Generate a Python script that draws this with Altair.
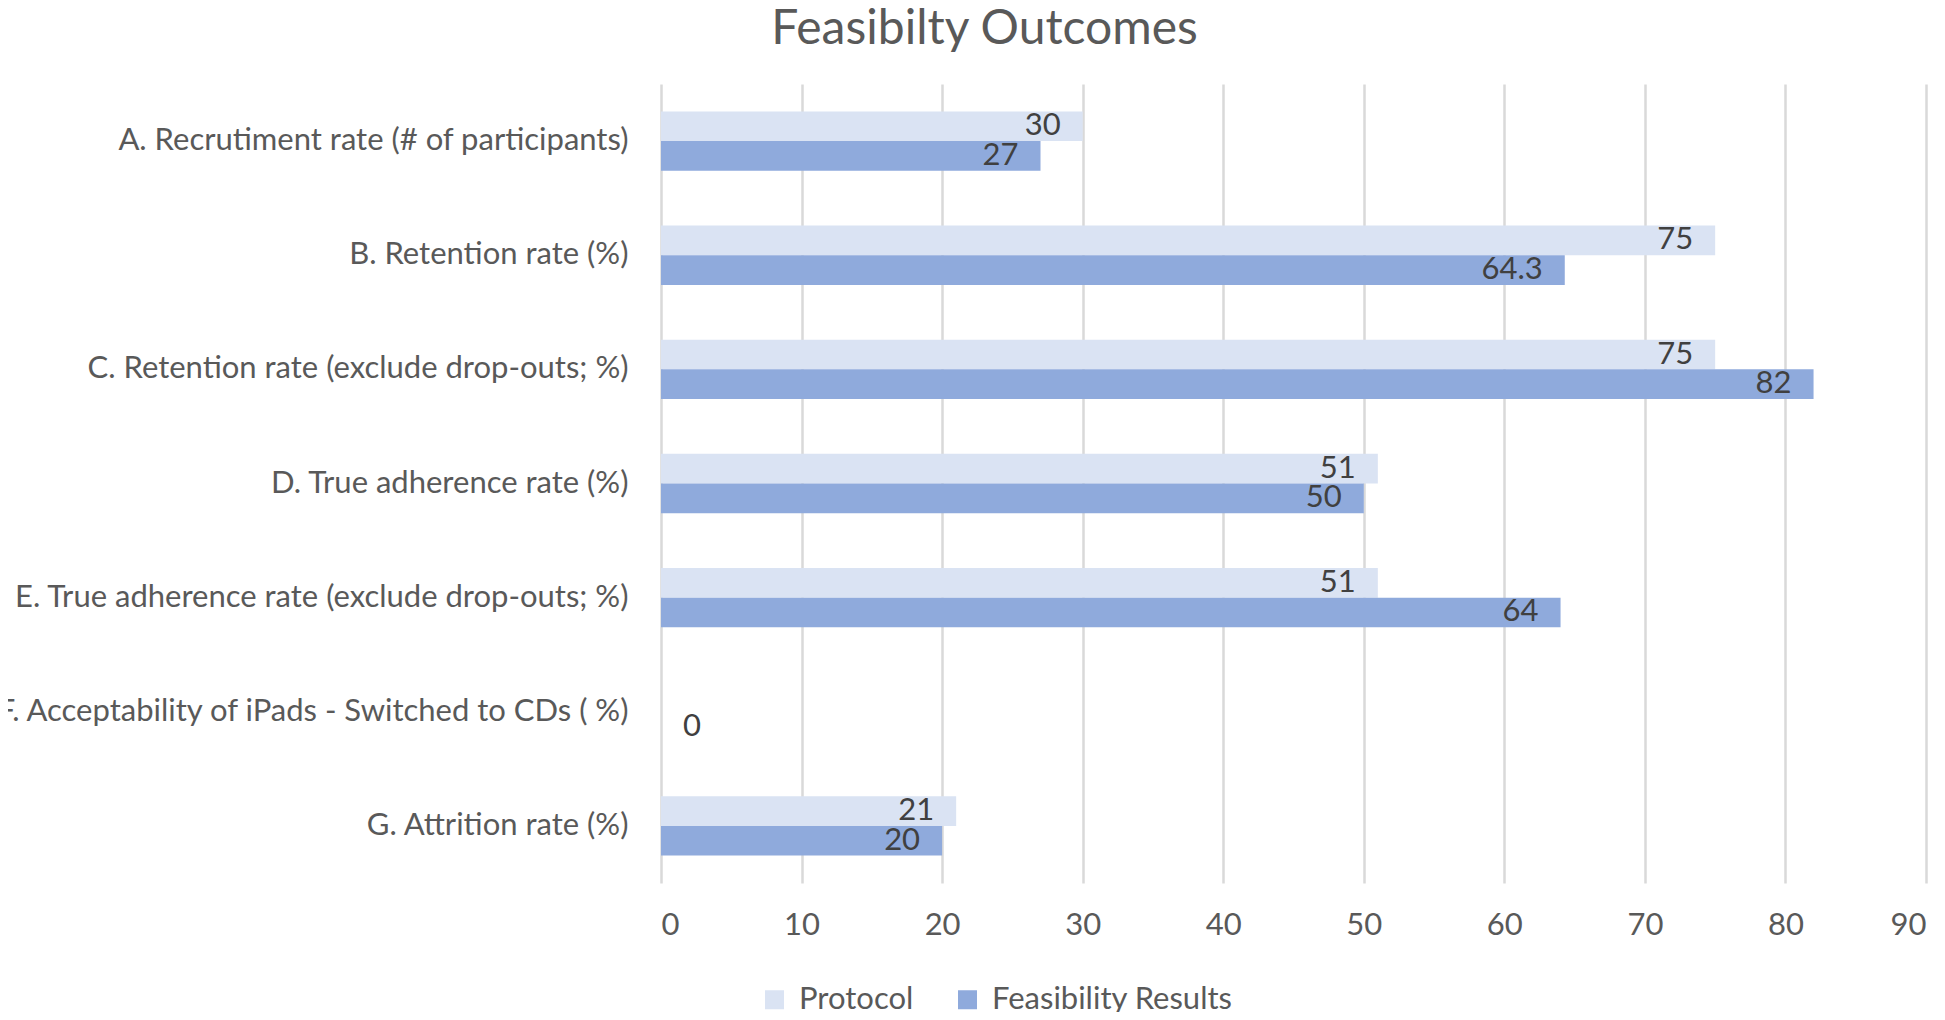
import altair as alt
import pandas as pd

categories = [
    "A. Recrutiment rate (# of participants)",
    "B. Retention rate (%)",
    "C. Retention rate (exclude drop-outs; %)",
    "D. True adherence rate (%)",
    "E. True adherence rate (exclude drop-outs; %)",
    "F. Acceptability of iPads - Switched to CDs ( %)",
    "G. Attrition rate (%)",
]
series_names = ["Protocol", "Feasibility Results"]
protocol = [30, 75, 75, 51, 51, None, 21]
feasibility = [27, 64.3, 82, 50, 64, 0, 20]
colors = ["#DAE3F3", "#8FAADC"]
x_ticks = [0, 10, 20, 30, 40, 50, 60, 70, 80, 90]

rows = []
for c, p, f in zip(categories, protocol, feasibility):
    if p is not None:
        rows.append({"category": c, "series": "Protocol", "value": p})
    if f is not None:
        rows.append({"category": c, "series": "Feasibility Results", "value": f})
df = pd.DataFrame(rows)
df["label"] = df["value"].map(lambda v: f"{v:g}")

FONT = "Lato"
LABEL_COLOR = "#595959"

base = alt.Chart(df).encode(
    y=alt.Y(
        "category:N",
        sort=categories,
        scale=alt.Scale(paddingInner=0.48, paddingOuter=0.24),
        axis=alt.Axis(
            title=None, domain=False, ticks=False, labelFontSize=31,
            labelColor=LABEL_COLOR, labelFont=FONT, labelPadding=33, labelLimit=800,
        ),
    ),
    yOffset=alt.YOffset(
        "series:N", sort=series_names,
        scale=alt.Scale(domain=series_names, paddingInner=0, paddingOuter=0),
    ),
)

xenc = alt.X(
    "value:Q",
    scale=alt.Scale(domain=[0, 90], nice=False, zero=True),
    axis=alt.Axis(
        values=x_ticks, title=None, domain=False, ticks=False, grid=True,
        gridColor="#D9D9D9", gridWidth=2.5, labelFontSize=31, labelColor=LABEL_COLOR,
        labelFont=FONT, labelPadding=27,
    ),
)

bars = base.mark_bar().encode(
    x=xenc,
    color=alt.Color(
        "series:N",
        scale=alt.Scale(domain=series_names, range=colors),
        legend=alt.Legend(
            title=None, orient="none", direction="horizontal", legendX=98, legendY=900,
            symbolType="square", symbolSize=361, symbolStrokeWidth=0,
            labelFontSize=31, labelFont=FONT, labelColor=LABEL_COLOR, labelLimit=500,
            labelOffset=9, columnPadding=38,
        ),
    ),
)

texts = base.mark_text(
    align="right", baseline="middle", dx=-22, fontSize=31, font=FONT, color="#404040"
).encode(x=alt.X("value:Q"), text="label:N").transform_filter("datum.value > 0")

zero = base.mark_text(
    align="left", baseline="middle", dx=22, fontSize=31, font=FONT, color="#404040"
).encode(x=alt.X("value:Q"), text="label:N").transform_filter("datum.value == 0")

chart = alt.layer(bars, texts, zero).properties(
    width=1265,
    height=799,
    title=alt.TitleParams(
        "Feasibilty Outcomes", anchor="middle", dx=-309, dy=-26, fontSize=48, font=FONT,
        color=LABEL_COLOR, fontWeight="normal",
    ),
    padding={"left": 653, "top": 76, "right": 11, "bottom": 129},
    autosize=alt.AutoSizeParams(type="none"),
).configure_view(stroke=None)

chart.save("out.html", embed_options={"renderer": "svg", "actions": False})
